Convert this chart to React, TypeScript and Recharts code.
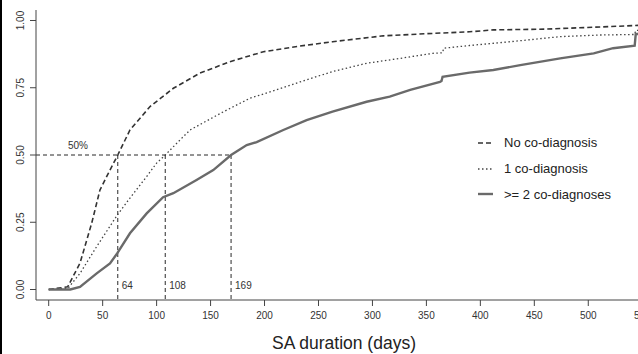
import { LineChart, Line, XAxis, YAxis, ReferenceLine, Legend } from 'recharts';

// time to return to work (days) vs cumulative proportion
const noCoDays = [0, 17.6, 29, 39.8, 47.5, 55, 64, 75.3, 93.9, 115.5, 140, 168, 199, 233, 263, 310, 356, 390, 412, 461, 505, 548];
const noCoProp = [0, 0.01, 0.098, 0.246, 0.37, 0.43, 0.5, 0.593, 0.68, 0.748, 0.804, 0.847, 0.884, 0.905, 0.921, 0.943, 0.952, 0.958, 0.965, 0.968, 0.975, 0.982];

const oneCoDays = [0, 18, 29, 44.5, 63.6, 75.3, 90.8, 100, 108, 121.7, 131, 162, 186.5, 211, 233, 263, 294.6, 325.5, 356, 365, 366, 390, 427.5, 474, 511, 543, 544, 548];
const oneCoProp = [0, 0.005, 0.06, 0.16, 0.277, 0.34, 0.42, 0.47, 0.5, 0.556, 0.593, 0.661, 0.711, 0.742, 0.772, 0.81, 0.841, 0.859, 0.878, 0.88, 0.897, 0.907, 0.921, 0.94, 0.946, 0.948, 0.963, 0.963];

const twoCoDays = [0, 20, 29, 44.5, 56.8, 63.6, 75.3, 90.8, 106, 115.5, 137, 152.5, 169, 183.5, 192.7, 217.4, 239, 263, 294.6, 316, 335, 362.6, 364, 365, 390, 412, 437, 474, 505, 523, 543, 544, 548];
const twoCoProp = [0, 0, 0.01, 0.06, 0.097, 0.135, 0.209, 0.283, 0.343, 0.358, 0.407, 0.444, 0.5, 0.537, 0.548, 0.593, 0.63, 0.661, 0.698, 0.717, 0.742, 0.772, 0.775, 0.791, 0.806, 0.816, 0.834, 0.859, 0.878, 0.897, 0.906, 0.95, 0.95];

const seriesNames = ['No co-diagnosis', '1 co-diagnosis', '>= 2 co-diagnoses'];
const medians = [64, 108, 169];

const xTicks = [0, 50, 100, 150, 200, 250, 300, 350, 400, 450, 500, 550];
const yTicks = [0, 0.25, 0.5, 0.75, 1];

const toPoints = (days: number[], prop: number[]) => days.map((d, i) => ({ day: d, p: prop[i] }));

const FONT = '"Liberation Sans", Arial, Helvetica, sans-serif';
const AXIS = '#444';

const styles = [
    { stroke: '#333', strokeWidth: 1.6, dash: '5 3' },
    { stroke: '#444', strokeWidth: 1.3, dash: '1.5 2.5' },
    { stroke: '#6a6a6a', strokeWidth: 2.4, dash: undefined as string | undefined },
];

const series = [
    toPoints(noCoDays, noCoProp),
    toPoints(oneCoDays, oneCoProp),
    toPoints(twoCoDays, twoCoProp),
];

const YTick = (props: any) => {
    const { y, payload } = props;
    return (
        <text
            x={24}
            y={y}
            transform={`rotate(-90, 24, ${y})`}
            textAnchor="middle"
            fontSize={10}
            fontFamily={FONT}
            fill="#333"
        >
            {payload.value.toFixed(2)}
        </text>
    );
};

const medianLabel = (text: string) => (props: any) => {
    const vb = props.viewBox || {};
    const left = Math.min(vb.x, vb.x + (vb.width || 0));
    const bottom = Math.max(vb.y, vb.y + (vb.height || 0));
    return (
        <text x={left + 4} y={bottom - 11} fontSize={10} fontFamily={FONT} fill="#333">
            {text}
        </text>
    );
};

const halfLabel = (props: any) => {
    const vb = props.viewBox || {};
    const left = Math.min(vb.x, vb.x + (vb.width || 0));
    const top = Math.min(vb.y, vb.y + (vb.height || 0));
    return (
        <text x={left + 32} y={top - 6} fontSize={10} fontFamily={FONT} fill="#333">
            50%
        </text>
    );
};

const LegendBox = () => (
    <div style={{ fontFamily: FONT, fontSize: 13, color: '#222' }}>
        {seriesNames.map((name, i) => (
            <div key={name} style={{ display: 'flex', alignItems: 'center', height: 25.7 }}>
                <svg width={30} height={10}>
                    <line
                        x1={4}
                        x2={19}
                        y1={5}
                        y2={5}
                        stroke={styles[i].stroke}
                        strokeWidth={styles[i].strokeWidth}
                        strokeDasharray={styles[i].dash}
                    />
                </svg>
                <span>{name}</span>
            </div>
        ))}
    </div>
);

export default function App() {
    return (
        <div
            style={{
                position: 'fixed',
                left: 0,
                top: 0,
                width: 638,
                height: 354,
                overflow: 'hidden',
                background: '#fff',
            }}
        >
            <LineChart width={680} height={354} margin={{ top: 10, right: 0, bottom: 0, left: 0 }}>
                <XAxis
                    dataKey="day"
                    type="number"
                    domain={[-11.77, 585]}
                    allowDataOverflow
                    ticks={xTicks}
                    interval={0}
                    height={54}
                    tickSize={6}
                    tickMargin={6}
                    stroke={AXIS}
                    tick={{ fill: '#333', fontSize: 10, fontFamily: FONT }}
                    label={{
                        value: 'SA duration (days)',
                        content: () => (
                            <text x={344} y={349} textAnchor="middle" fontSize={17.5} fontFamily={FONT} fill="#222">
                                SA duration (days)
                            </text>
                        ),
                    }}
                />
                <YAxis
                    type="number"
                    domain={[-0.039, 1.039]}
                    allowDataOverflow
                    ticks={yTicks}
                    interval={0}
                    width={36}
                    tickSize={6}
                    stroke={AXIS}
                    tick={<YTick />}
                />
                <ReferenceLine
                    segment={[{ x: -11.77, y: 0.5 }, { x: medians[2], y: 0.5 }]}
                    stroke="#111"
                    strokeWidth={0.9}
                    strokeDasharray="4 3"
                    label={halfLabel}
                />
                {medians.map((m) => (
                    <ReferenceLine
                        key={m}
                        segment={[{ x: m, y: 0.5 }, { x: m, y: -0.039 }]}
                        stroke="#111"
                        strokeWidth={0.9}
                        strokeDasharray="4 3"
                        label={medianLabel(String(m))}
                    />
                ))}
                {series.map((data, i) => (
                    <Line
                        key={seriesNames[i]}
                        data={data}
                        dataKey="p"
                        name={seriesNames[i]}
                        type="linear"
                        stroke={styles[i].stroke}
                        strokeWidth={styles[i].strokeWidth}
                        strokeDasharray={styles[i].dash}
                        dot={false}
                        activeDot={false}
                        isAnimationActive={false}
                    />
                ))}
                <Legend
                    layout="vertical"
                    align="center"
                    verticalAlign="middle"
                    wrapperStyle={{ left: 474, top: 130, width: 170 }}
                    content={() => <LegendBox />}
                />
            </LineChart>
            <div style={{ position: 'absolute', left: 0, top: 0, width: 2, height: 354, background: '#000' }} />
        </div>
    );
}
